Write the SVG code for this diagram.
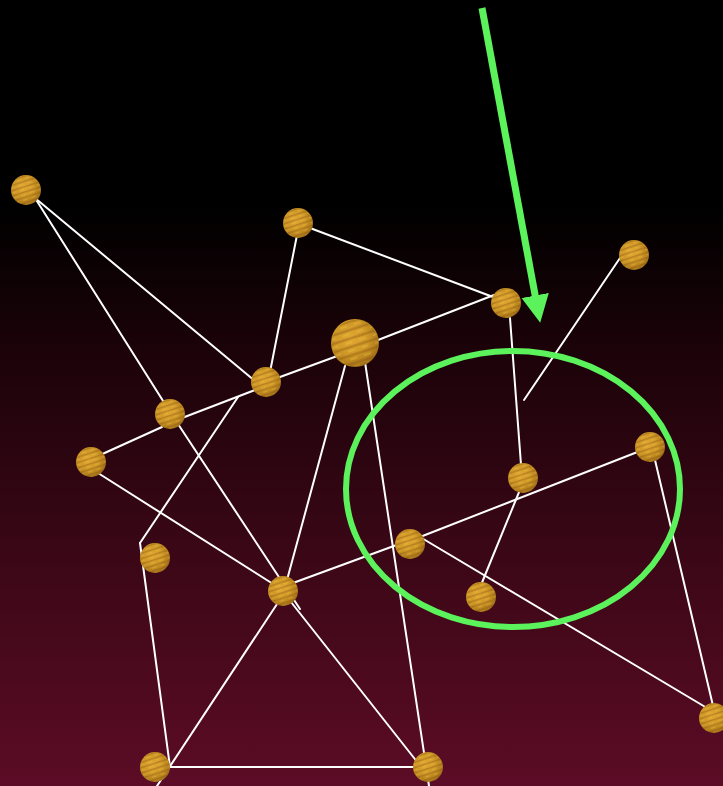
<svg xmlns="http://www.w3.org/2000/svg" width="723" height="786" viewBox="0 0 723 786">
<style>
.e{stroke:#ffffff;stroke-width:2;fill:none;stroke-linecap:round}
.g{stroke:#5cf25c;fill:none}
</style>
<defs>
<linearGradient id="bg" x1="0" y1="0" x2="0" y2="1">
<stop offset="0" stop-color="#000000"/>
<stop offset="0.27" stop-color="#010000"/>
<stop offset="0.45" stop-color="#1c0309"/>
<stop offset="0.7" stop-color="#3a0716"/>
<stop offset="1" stop-color="#5c0c26"/>
</linearGradient>
<radialGradient id="gold" cx="0.42" cy="0.4" r="0.62">
<stop offset="0" stop-color="#e2a832"/>
<stop offset="0.55" stop-color="#cf9826"/>
<stop offset="0.85" stop-color="#b47f1c"/>
<stop offset="1" stop-color="#9c6c18"/>
</radialGradient>
<pattern id="stripes" width="0.6" height="0.34" patternUnits="userSpaceOnUse" patternTransform="rotate(-18)">
<rect width="0.6" height="0.1" y="0.05" fill="#8a5514" opacity="0.4"/>
<rect width="0.3" height="0.08" x="0.2" y="0.22" fill="#f2c44a" opacity="0.35"/>
</pattern>
<symbol id="ball" viewBox="-1 -1 2 2" overflow="visible">
<circle r="1" fill="url(#gold)"/>
<circle r="0.96" fill="url(#stripes)"/>
</symbol>
<marker id="ah" markerUnits="userSpaceOnUse" markerWidth="30" markerHeight="30" refX="4" refY="12" orient="auto" viewBox="0 0 26 24">
<path d="M0,0 L24,12 L0,24 Z" fill="#5cf25c"/>
</marker>
</defs>
<rect width="723" height="786" fill="url(#bg)"/>
<g id="connectors">
<line class="e" x1="35" y1="198" x2="255" y2="381"/>
<line class="e" x1="35" y1="198" x2="165" y2="404"/>
<line class="e" x1="178" y1="424" x2="300" y2="609"/>
<line class="e" x1="298" y1="230" x2="270" y2="372"/>
<line class="e" x1="310" y1="228" x2="493" y2="297"/>
<line class="e" x1="98" y1="456" x2="162" y2="427"/>
<line class="e" x1="182" y1="418" x2="255" y2="390"/>
<line class="e" x1="280" y1="377" x2="340" y2="355"/>
<line class="e" x1="378" y1="340" x2="494" y2="295"/>
<line class="e" x1="238" y1="397" x2="140" y2="543"/>
<line class="e" x1="140" y1="543" x2="170" y2="767"/>
<line class="e" x1="170" y1="767" x2="428" y2="767"/>
<line class="e" x1="283" y1="595" x2="157" y2="786"/>
<line class="e" x1="291" y1="602" x2="418" y2="763"/>
<line class="e" x1="345" y1="366" x2="287" y2="580"/>
<line class="e" x1="365" y1="362" x2="429" y2="786"/>
<line class="e" x1="293" y1="583" x2="402" y2="543"/>
<line class="e" x1="420" y1="537" x2="640" y2="451"/>
<line class="e" x1="510" y1="318" x2="522" y2="478"/>
<line class="e" x1="524" y1="480" x2="481" y2="585"/>
<line class="e" x1="620" y1="258" x2="524" y2="400"/>
<line class="e" x1="655" y1="460" x2="714" y2="710"/>
<line class="e" x1="420" y1="537" x2="712" y2="711"/>
<line class="e" x1="98" y1="473" x2="281" y2="589"/>
</g>
<g id="n1"><use href="#ball" x="11" y="175" width="30" height="30"/></g>
<g id="n2"><use href="#ball" x="283" y="208" width="30" height="30"/></g>
<g id="n3"><use href="#ball" x="619" y="240" width="30" height="30"/></g>
<g id="n4"><use href="#ball" x="491" y="288" width="30" height="30"/></g>
<g id="n5"><use href="#ball" x="331" y="319" width="48" height="48"/></g>
<g id="n6"><use href="#ball" x="251" y="367" width="30" height="30"/></g>
<g id="n7"><use href="#ball" x="155" y="399" width="30" height="30"/></g>
<g id="n8"><use href="#ball" x="76" y="447" width="30" height="30"/></g>
<g id="n9"><use href="#ball" x="635" y="432" width="30" height="30"/></g>
<g id="n10"><use href="#ball" x="508" y="463" width="30" height="30"/></g>
<g id="n11"><use href="#ball" x="395" y="529" width="30" height="30"/></g>
<g id="n12"><use href="#ball" x="140" y="543" width="30" height="30"/></g>
<g id="n13"><use href="#ball" x="268" y="576" width="30" height="30"/></g>
<g id="n14"><use href="#ball" x="466" y="582" width="30" height="30"/></g>
<g id="n15"><use href="#ball" x="699" y="703" width="30" height="30"/></g>
<g id="n16"><use href="#ball" x="140" y="752" width="30" height="30"/></g>
<g id="n17"><use href="#ball" x="413" y="752" width="30" height="30"/></g>
<g id="highlight">
<ellipse class="g" cx="513" cy="489" rx="167" ry="138" stroke-width="6"/>
<line class="g" x1="482" y1="8" x2="536" y2="300" stroke-width="7" marker-end="url(#ah)"/>
</g>
</svg>
